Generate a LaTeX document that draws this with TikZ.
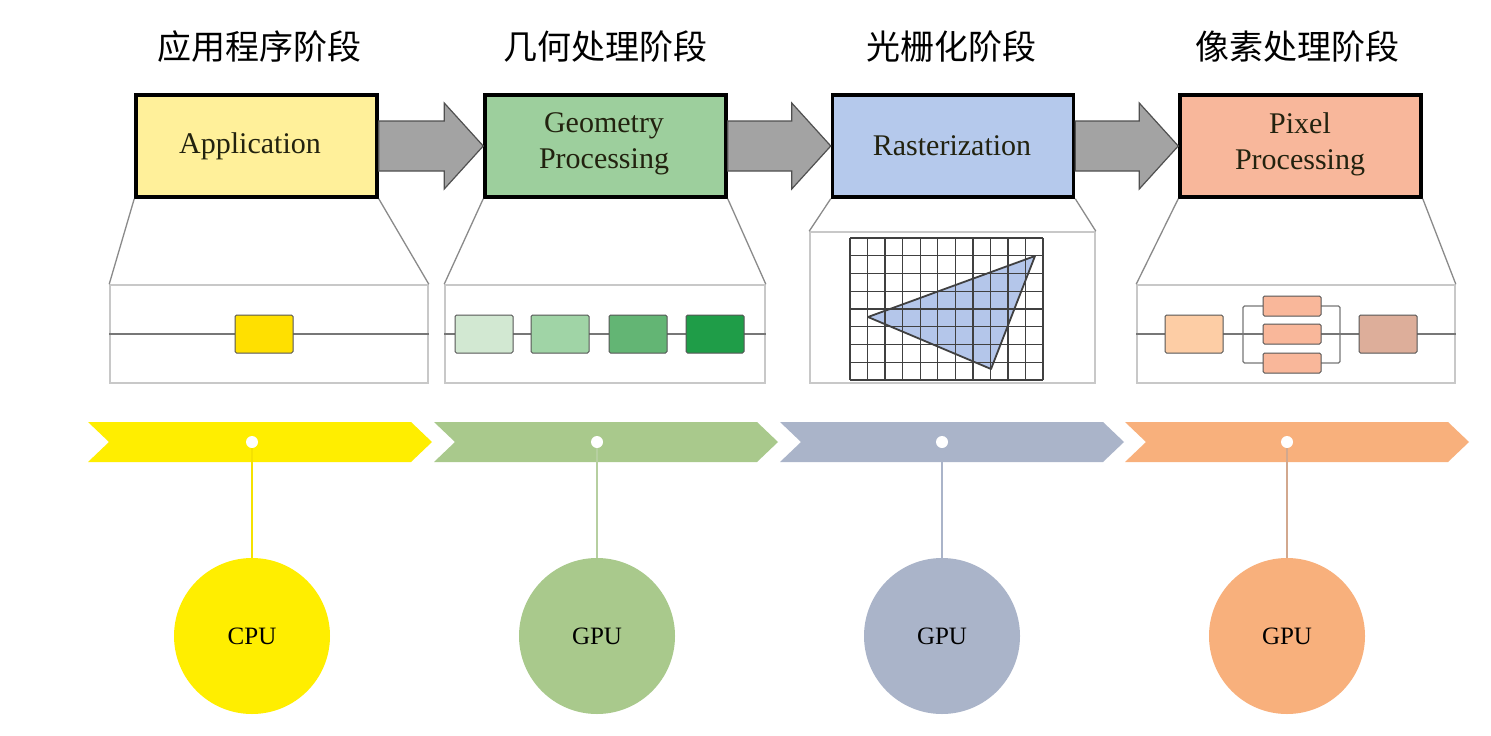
\documentclass[tikz,border=0pt]{standalone}
\usepackage{fontspec}
\setmainfont{Liberation Serif}
\newfontfamily\cjk{Noto Sans CJK SC}
\usetikzlibrary{calc}
\definecolor{fillY}{HTML}{FFF09A}
\definecolor{fillG}{HTML}{9DCF9D}
\definecolor{fillB}{HTML}{B5C9EC}
\definecolor{fillO}{HTML}{F8B79B}
\definecolor{chY}{HTML}{FFEE00}
\definecolor{chG}{HTML}{A9C98C}
\definecolor{chB}{HTML}{AAB4C9}
\definecolor{chO}{HTML}{F8B07C}
\definecolor{lnY}{HTML}{F5E200}
\definecolor{lnG}{HTML}{B6CFA0}
\definecolor{lnB}{HTML}{AAB4C9}
\definecolor{lnO}{HTML}{D2A88E}
\definecolor{panelgray}{HTML}{C8C8C8}
\definecolor{linegray}{HTML}{8A8A8A}
\definecolor{minidraw}{HTML}{555555}
\definecolor{arrowfill}{HTML}{A3A3A3}
\definecolor{arrowdraw}{HTML}{505050}
\definecolor{textdark}{HTML}{22220F}
\definecolor{trifill}{HTML}{B4C6EA}
\definecolor{appmini}{HTML}{FFE000}
\newcommand{\bigarrow}[2]{%
  \filldraw[garrow] ([yshift=25pt]#1.east) -- ([xshift=-39pt,yshift=25pt]#2.west)
    -- ([xshift=-39pt,yshift=43pt]#2.west) -- (#2.west)
    -- ([xshift=-39pt,yshift=-43pt]#2.west) -- ([xshift=-39pt,yshift=-25pt]#2.west)
    -- ([yshift=-25pt]#1.east) -- cycle;}
\begin{document}
\begin{tikzpicture}[x=1pt,y=-1pt,
  stagebox/.style={draw=black, line width=3.5pt, minimum width=241pt, minimum height=102pt,
    inner sep=0pt},
  stagelabel/.style={text=textdark, align=center, font=\fontsize{30}{36}\selectfont},
  title/.style={font=\cjk\fontsize{34}{40}\selectfont, text=black},
  panel/.style={draw=panelgray, line width=1.6pt, inner sep=0pt},
  zoomline/.style={draw=linegray, line width=1.3pt},
  midline/.style={draw=minidraw!80, line width=1.3pt},
  mini/.style={draw=minidraw, line width=1pt, rounded corners=1.5pt, minimum width=58pt,
    minimum height=38pt, inner sep=0pt},
  garrow/.style={fill=arrowfill, draw=arrowdraw, line width=1.2pt},
  dot/.style={circle, fill=white, minimum size=12pt, inner sep=0pt},
  proc/.style={circle, minimum size=156pt, inner sep=0pt, text=black, font=\fontsize{25}{30}\selectfont},
  vline/.style={line width=2pt}]
\useasboundingbox[fill=white] (0,0) rectangle (1491,736);

% titles
\node[title] (t1) at (259,47) {应用程序阶段};
\node[title] (t2) at (605,47) {几何处理阶段};
\node[title] (t3) at (951,47) {光栅化阶段};
\node[title] (t4) at (1297,47) {像素处理阶段};

% stage boxes
\node[stagebox, fill=fillY] (app) at (256.5,146) {};
\node[stagebox, fill=fillG] (geo) at (605.5,146) {};
\node[stagebox, fill=fillB] (ras) at (953,146) {};
\node[stagebox, fill=fillO] (pix) at (1300.5,146) {};
\node[stagelabel] (appL) at (250,146) {Application};
\node[stagelabel] (geoL) at (604,144) {Geometry\\Processing};
\node[stagelabel] (rasL) at (952,146) {Rasterization};
\node[stagelabel] (pixL) at (1300,144) {Pixel\\Processing};

\bigarrow{app}{geo}
\bigarrow{geo}{ras}
\bigarrow{ras}{pix}

% panels
\node[panel, minimum width=318pt, minimum height=98pt] (appP) at (269,334) {};
\node[panel, minimum width=320pt, minimum height=98pt] (geoP) at (605,334) {};
\node[panel, minimum width=285pt, minimum height=151pt] (rasP) at (952.5,307.5) {};
\node[panel, minimum width=318pt, minimum height=98pt] (pixP) at (1296,334) {};

\draw[zoomline] (app.south west) -- (appP.north west);
\draw[zoomline] (app.south east) -- (appP.north east);
\draw[zoomline] (geo.south west) -- (geoP.north west);
\draw[zoomline] (geo.south east) -- (geoP.north east);
\draw[zoomline] (ras.south west) -- (rasP.north west);
\draw[zoomline] (ras.south east) -- (rasP.north east);
\draw[zoomline] (pix.south west) -- (pixP.north west);
\draw[zoomline] (pix.south east) -- (pixP.north east);

% application panel
\draw[midline] (appP.west) -- (appP.east);
\node[mini, fill=appmini] (a1) at (264,334) {};

% geometry panel
\draw[midline] (geoP.west) -- (geoP.east);
\node[mini, fill={rgb,255:red,210;green,232;blue,210}] (g1) at (484,334) {};
\node[mini, fill={rgb,255:red,160;green,212;blue,166}] (g2) at (560,334) {};
\node[mini, fill={rgb,255:red,99;green,181;blue,116}] (g3) at (638,334) {};
\node[mini, fill={rgb,255:red,31;green,157;blue,72}] (g4) at (715,334) {};

% rasterization panel
\fill[trifill] (868,317) -- (1035,256) -- (991,369) -- cycle;
\foreach \i in {0,...,11} {
  \draw[line width=1.3pt, draw=black!75] (850+\i*17.55,238) -- (850+\i*17.55,380);
}
\foreach \j in {0,...,8} {
  \draw[line width=1.3pt, draw=black!75] (850,238+\j*17.75) -- (1043,238+\j*17.75);
}
\draw[line width=1.8pt, draw=black!75, line join=round] (868,317) -- (1035,256) -- (991,369) -- cycle;

% pixel panel
\draw[midline] (pixP.west) -- (pixP.east);
\draw[midline, rounded corners=1.5pt] (1243,306) rectangle (1340,363);
\node[mini, fill={rgb,255:red,253;green,205;blue,165}] (p1) at (1194,334) {};
\node[mini, minimum height=20pt, fill={rgb,255:red,249;green,183;blue,154}] (p2) at (1292,306) {};
\node[mini, minimum height=20pt, fill={rgb,255:red,249;green,183;blue,154}] (p3) at (1292,334) {};
\node[mini, minimum height=20pt, fill={rgb,255:red,249;green,183;blue,154}] (p4) at (1292,363) {};
\node[mini, fill={rgb,255:red,221;green,174;blue,154}] (p5) at (1388,334) {};

% chevrons
\foreach \x/\c in {88/chY,434/chG,780/chB,1125/chO} {
  \fill[\c] (\x,422) -- ++(323,0) -- ++(21,20) -- ++(-21,20) -- ++(-323,0) -- ++(21,-20) -- cycle;
}

% dots and circles
\node[dot] (d1) at (252,442) {};
\node[dot] (d2) at (597,442) {};
\node[dot] (d3) at (942,442) {};
\node[dot] (d4) at (1287,442) {};
\node[proc, fill=chY] (c1) at (252,636) {CPU};
\node[proc, fill=chG] (c2) at (597,636) {GPU};
\node[proc, fill=chB] (c3) at (942,636) {GPU};
\node[proc, fill=chO] (c4) at (1287,636) {GPU};
\draw[vline, lnY] (d1) -- (c1);
\draw[vline, lnG] (d2) -- (c2);
\draw[vline, lnB] (d3) -- (c3);
\draw[vline, lnO] (d4) -- (c4);
\end{tikzpicture}
\end{document}
